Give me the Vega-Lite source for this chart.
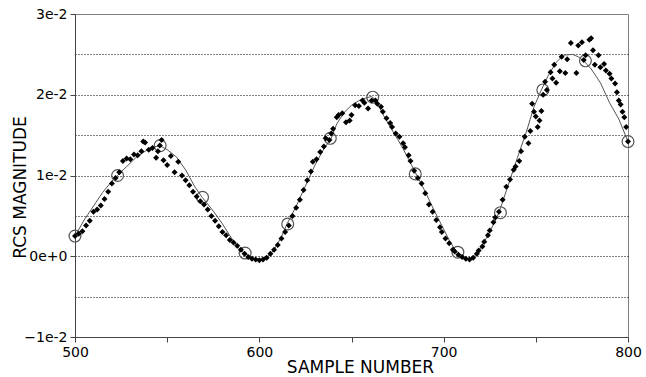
{
  "$schema": "https://vega.github.io/schema/vega-lite/v6.json",
  "autosize": "none",
  "width": 553,
  "height": 323,
  "padding": {"left": 75, "top": 14, "right": 18, "bottom": 40},
  "background": "white",
  "config": {
    "view": {"stroke": "#808080", "strokeWidth": 1},
    "axis": {"labelFont": "DejaVu Sans", "labelFontSize": 14, "labelColor": "#000", "labelFlush": false, "labelOverlap": false, "titleFont": "DejaVu Sans", "titleFontSize": 17, "titleFontWeight": "normal", "titleColor": "#000", "domainColor": "#444", "tickColor": "#444", "tickSize": 5}
  },
  "datasets": {
    "measured": [
      {"sample":500,"rcs":0.0025},{"sample":502,"rcs":0.0028},{"sample":504,"rcs":0.0031},{"sample":506,"rcs":0.0038},{"sample":508,"rcs":0.0044},{"sample":510,"rcs":0.0055},{"sample":512,"rcs":0.0058},{"sample":514,"rcs":0.0063},{"sample":516,"rcs":0.0071},{"sample":518,"rcs":0.0080},{"sample":520,"rcs":0.0090},{"sample":522,"rcs":0.0097},{"sample":524,"rcs":0.0104},{"sample":526,"rcs":0.0118},{"sample":528,"rcs":0.0121},{"sample":530,"rcs":0.0120},{"sample":532,"rcs":0.0126},{"sample":534,"rcs":0.0125},{"sample":536,"rcs":0.0130},{"sample":537,"rcs":0.0142},{"sample":538,"rcs":0.0141},{"sample":540,"rcs":0.0132},{"sample":542,"rcs":0.0134},{"sample":544,"rcs":0.0122},{"sample":545,"rcs":0.0130},{"sample":546,"rcs":0.0137},{"sample":547,"rcs":0.0144},{"sample":548,"rcs":0.0119},{"sample":550,"rcs":0.0113},{"sample":552,"rcs":0.0124},{"sample":554,"rcs":0.0104},{"sample":556,"rcs":0.0117},{"sample":558,"rcs":0.0100},{"sample":560,"rcs":0.0094},{"sample":562,"rcs":0.0088},{"sample":564,"rcs":0.0080},{"sample":566,"rcs":0.0074},{"sample":568,"rcs":0.0068},{"sample":570,"rcs":0.0064},{"sample":572,"rcs":0.0058},{"sample":574,"rcs":0.0050},{"sample":576,"rcs":0.0044},{"sample":578,"rcs":0.0037},{"sample":580,"rcs":0.0030},{"sample":582,"rcs":0.0026},{"sample":584,"rcs":0.0020},{"sample":586,"rcs":0.0017},{"sample":588,"rcs":0.0013},{"sample":590,"rcs":0.0008},{"sample":592,"rcs":0.0003},{"sample":594,"rcs":-0.0001},{"sample":596,"rcs":-0.0003},{"sample":598,"rcs":-0.0004},{"sample":600,"rcs":-0.0005},{"sample":602,"rcs":-0.0004},{"sample":604,"rcs":-0.0002},{"sample":606,"rcs":0.0003},{"sample":608,"rcs":0.0008},{"sample":610,"rcs":0.0014},{"sample":612,"rcs":0.0022},{"sample":614,"rcs":0.0030},{"sample":616,"rcs":0.0038},{"sample":618,"rcs":0.0050},{"sample":620,"rcs":0.0060},{"sample":622,"rcs":0.0070},{"sample":624,"rcs":0.0082},{"sample":626,"rcs":0.0094},{"sample":628,"rcs":0.0105},{"sample":629,"rcs":0.0117},{"sample":631,"rcs":0.0120},{"sample":633,"rcs":0.0129},{"sample":635,"rcs":0.0136},{"sample":636,"rcs":0.0146},{"sample":638,"rcs":0.0144},{"sample":639,"rcs":0.0152},{"sample":640,"rcs":0.0158},{"sample":642,"rcs":0.0172},{"sample":643,"rcs":0.0175},{"sample":645,"rcs":0.0177},{"sample":647,"rcs":0.0166},{"sample":649,"rcs":0.0168},{"sample":650,"rcs":0.0175},{"sample":652,"rcs":0.0187},{"sample":654,"rcs":0.0186},{"sample":656,"rcs":0.0193},{"sample":657,"rcs":0.0190},{"sample":659,"rcs":0.0183},{"sample":661,"rcs":0.0193},{"sample":663,"rcs":0.0193},{"sample":664,"rcs":0.0189},{"sample":666,"rcs":0.0185},{"sample":667,"rcs":0.0179},{"sample":669,"rcs":0.0171},{"sample":671,"rcs":0.0165},{"sample":672,"rcs":0.0160},{"sample":674,"rcs":0.0152},{"sample":676,"rcs":0.0148},{"sample":678,"rcs":0.0140},{"sample":679,"rcs":0.0135},{"sample":681,"rcs":0.0125},{"sample":682,"rcs":0.0118},{"sample":684,"rcs":0.0106},{"sample":686,"rcs":0.0097},{"sample":688,"rcs":0.0090},{"sample":690,"rcs":0.0078},{"sample":692,"rcs":0.0064},{"sample":694,"rcs":0.0055},{"sample":696,"rcs":0.0045},{"sample":698,"rcs":0.0036},{"sample":699,"rcs":0.0030},{"sample":701,"rcs":0.0022},{"sample":703,"rcs":0.0016},{"sample":705,"rcs":0.0008},{"sample":706,"rcs":0.0006},{"sample":708,"rcs":0.0002},{"sample":710,"rcs":-0.0001},{"sample":712,"rcs":-0.0003},{"sample":714,"rcs":-0.0004},{"sample":716,"rcs":-0.0002},{"sample":718,"rcs":0.0003},{"sample":719,"rcs":0.0007},{"sample":721,"rcs":0.0012},{"sample":722,"rcs":0.0018},{"sample":724,"rcs":0.0026},{"sample":725,"rcs":0.0032},{"sample":727,"rcs":0.0042},{"sample":728,"rcs":0.0048},{"sample":730,"rcs":0.0055},{"sample":732,"rcs":0.0070},{"sample":734,"rcs":0.0086},{"sample":736,"rcs":0.0095},{"sample":738,"rcs":0.0107},{"sample":739,"rcs":0.0111},{"sample":741,"rcs":0.0118},{"sample":742,"rcs":0.0130},{"sample":744,"rcs":0.0148},{"sample":746,"rcs":0.0140},{"sample":747,"rcs":0.0155},{"sample":748,"rcs":0.0189},{"sample":749,"rcs":0.0179},{"sample":750,"rcs":0.0173},{"sample":751,"rcs":0.0160},{"sample":752,"rcs":0.0168},{"sample":753,"rcs":0.0180},{"sample":754,"rcs":0.0200},{"sample":755,"rcs":0.0216},{"sample":756,"rcs":0.0206},{"sample":758,"rcs":0.0228},{"sample":759,"rcs":0.0220},{"sample":760,"rcs":0.0237},{"sample":761,"rcs":0.0215},{"sample":763,"rcs":0.0229},{"sample":764,"rcs":0.0247},{"sample":766,"rcs":0.0227},{"sample":767,"rcs":0.0244},{"sample":769,"rcs":0.0264},{"sample":772,"rcs":0.0227},{"sample":773,"rcs":0.0261},{"sample":775,"rcs":0.0265},{"sample":776,"rcs":0.0243},{"sample":777,"rcs":0.0249},{"sample":779,"rcs":0.0268},{"sample":780,"rcs":0.0270},{"sample":781,"rcs":0.0255},{"sample":782,"rcs":0.0237},{"sample":784,"rcs":0.0249},{"sample":785,"rcs":0.0234},{"sample":787,"rcs":0.0238},{"sample":788,"rcs":0.0230},{"sample":790,"rcs":0.0226},{"sample":791,"rcs":0.0220},{"sample":793,"rcs":0.0214},{"sample":794,"rcs":0.0203},{"sample":795,"rcs":0.0193},{"sample":796,"rcs":0.0188},{"sample":797,"rcs":0.0179},{"sample":798,"rcs":0.0172},{"sample":799,"rcs":0.0160},{"sample":800,"rcs":0.0142}
    ],
    "model": [
      {"sample":500,"rcs":0.0025},{"sample":505,"rcs":0.0045},{"sample":510,"rcs":0.0062},{"sample":515,"rcs":0.0079},{"sample":520,"rcs":0.0093},{"sample":523,"rcs":0.0100},{"sample":528,"rcs":0.0111},{"sample":533,"rcs":0.0122},{"sample":538,"rcs":0.0130},{"sample":542,"rcs":0.0135},{"sample":546,"rcs":0.0137},{"sample":550,"rcs":0.0132},{"sample":555,"rcs":0.0123},{"sample":560,"rcs":0.0107},{"sample":565,"rcs":0.0086},{"sample":569,"rcs":0.0073},{"sample":575,"rcs":0.0056},{"sample":580,"rcs":0.0040},{"sample":585,"rcs":0.0022},{"sample":590,"rcs":0.0007},{"sample":592,"rcs":0.0004},{"sample":596,"rcs":-0.0002},{"sample":600,"rcs":-0.0004},{"sample":604,"rcs":-0.0002},{"sample":608,"rcs":0.0008},{"sample":612,"rcs":0.0024},{"sample":615,"rcs":0.0040},{"sample":620,"rcs":0.0062},{"sample":625,"rcs":0.0087},{"sample":630,"rcs":0.0112},{"sample":635,"rcs":0.0133},{"sample":639,"rcs":0.0146},{"sample":642,"rcs":0.0164},{"sample":646,"rcs":0.0178},{"sample":650,"rcs":0.0187},{"sample":655,"rcs":0.0194},{"sample":661,"rcs":0.0198},{"sample":664,"rcs":0.0190},{"sample":667,"rcs":0.0176},{"sample":671,"rcs":0.0160},{"sample":675,"rcs":0.0145},{"sample":678,"rcs":0.0133},{"sample":681,"rcs":0.0120},{"sample":685,"rcs":0.0102},{"sample":690,"rcs":0.0080},{"sample":695,"rcs":0.0056},{"sample":699,"rcs":0.0038},{"sample":703,"rcs":0.0020},{"sample":707,"rcs":0.0005},{"sample":710,"rcs":-0.0002},{"sample":713,"rcs":-0.0004},{"sample":716,"rcs":-0.0002},{"sample":720,"rcs":0.0010},{"sample":725,"rcs":0.0030},{"sample":730,"rcs":0.0054},{"sample":735,"rcs":0.0088},{"sample":740,"rcs":0.0122},{"sample":745,"rcs":0.0155},{"sample":749,"rcs":0.0185},{"sample":753,"rcs":0.0206},{"sample":757,"rcs":0.0225},{"sample":761,"rcs":0.0240},{"sample":765,"rcs":0.0249},{"sample":770,"rcs":0.0250},{"sample":773,"rcs":0.0247},{"sample":776,"rcs":0.0242},{"sample":780,"rcs":0.0232},{"sample":785,"rcs":0.0215},{"sample":790,"rcs":0.0190},{"sample":795,"rcs":0.0170},{"sample":800,"rcs":0.0142}
    ],
    "markers": [
      {"sample":500,"rcs":0.0025},{"sample":523.1,"rcs":0.0100},{"sample":546.2,"rcs":0.0137},{"sample":569.2,"rcs":0.0073},{"sample":592.3,"rcs":0.0004},{"sample":615.4,"rcs":0.0040},{"sample":638.5,"rcs":0.0146},{"sample":661.5,"rcs":0.0197},{"sample":684.6,"rcs":0.0102},{"sample":707.7,"rcs":0.0005},{"sample":730.8,"rcs":0.0054},{"sample":753.8,"rcs":0.0206},{"sample":776.9,"rcs":0.0242},{"sample":800,"rcs":0.0142}
    ]
  },
  "encoding": {
    "x": {"field": "sample", "type": "quantitative",
      "scale": {"domain": [500, 800], "nice": false, "zero": false},
      "axis": {"title": "SAMPLE NUMBER", "values": [500, 550, 600, 650, 700, 750, 800], "format": "d",
        "labelExpr": "datum.value % 100 == 0 ? datum.label : ''", "grid": false,
        "labelPadding": 3, "titleX": 285, "titleY": 35, "titleBaseline": "alphabetic", "titleAlign": "center"}},
    "y": {"field": "rcs", "type": "quantitative",
      "scale": {"domain": [-0.01, 0.03], "nice": false, "zero": false},
      "axis": {"title": "RCS MAGNITUDE", "values": [-0.01, -0.005, 0, 0.005, 0.01, 0.015, 0.02, 0.025, 0.03], "format": ".0e",
        "labelExpr": "abs(datum.value*100 - round(datum.value*100)) < 0.1 ? datum.label : ''",
        "tickOpacity": {"condition": {"test": "abs(datum.value*100 - round(datum.value*100)) < 0.1", "value": 1}, "value": 0},
        "gridOpacity": {"condition": {"test": "datum.value < -0.0099 || datum.value > 0.0299", "value": 0}, "value": 1},
        "grid": true, "gridColor": "#000", "gridDash": [1, 2], "gridWidth": 1,
        "labelPadding": 3, "titleAngle": -90, "titleX": -50, "titleY": 173, "titleAlign": "center", "titleBaseline": "alphabetic"}}
  },
  "layer": [
    {"data": {"name": "model"}, "mark": {"type": "line", "color": "#555", "strokeWidth": 1}},
    {"data": {"name": "markers"}, "mark": {"type": "point", "shape": "circle", "filled": false, "size": 140, "stroke": "#555", "strokeWidth": 1.2, "opacity": 1}},
    {"data": {"name": "measured"}, "mark": {"type": "point", "shape": "diamond", "filled": true, "size": 36, "color": "#000", "opacity": 1}}
  ]
}
